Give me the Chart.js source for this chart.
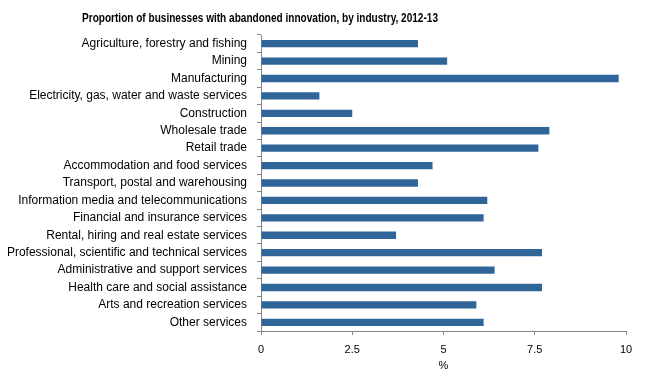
<!DOCTYPE html>
<html>
<head>
<meta charset="utf-8">
<script src="https://cdn.jsdelivr.net/npm/chart.js@4/dist/chart.umd.min.js"></script>
<style>
  html, body { margin: 0; padding: 0; background: #fff; }
  #wrap { width: 670px; height: 373px; position: relative; }
</style>
</head>
<body>
<div id="wrap"><canvas id="chart" width="670" height="373"></canvas></div>
<script>
// ===== Data =====
const industries = [
  "Agriculture, forestry and fishing",
  "Mining",
  "Manufacturing",
  "Electricity, gas, water and waste services",
  "Construction",
  "Wholesale trade",
  "Retail trade",
  "Accommodation and food services",
  "Transport, postal and warehousing",
  "Information media and telecommunications",
  "Financial and insurance services",
  "Rental, hiring and real estate services",
  "Professional, scientific and technical services",
  "Administrative and support services",
  "Health care and social assistance",
  "Arts and recreation services",
  "Other services"
];
const abandonedPct = [4.3, 5.1, 9.8, 1.6, 2.5, 7.9, 7.6, 4.7, 4.3, 6.2, 6.1, 3.7, 7.7, 6.4, 7.7, 5.9, 6.1];
const xTicks = [0, 2.5, 5, 7.5, 10];

const titleText = "Proportion of businesses with abandoned innovation, by industry, 2012-13";
const FONT = "'Liberation Sans', Arial, sans-serif";

// title drawn by hand so it can sit where the original has it
const titlePlugin = {
  id: "titleText",
  afterDraw(chart) {
    const ctx = chart.ctx;
    ctx.save();
    ctx.font = "bold 13px " + FONT;
    ctx.fillStyle = "#000";
    ctx.textAlign = "center";
    ctx.textBaseline = "middle";
    ctx.fillText(titleText, 260, 18, 356);
    ctx.restore();
  }
};

const ctx = document.getElementById("chart").getContext("2d");
new Chart(ctx, {
  type: "bar",
  data: {
    labels: industries,
    datasets: [{
      data: abandonedPct,
      backgroundColor: "#30659a",
      barPercentage: 0.42,
      categoryPercentage: 1
    }]
  },
  options: {
    indexAxis: "y",
    responsive: false,
    animation: false,
    layout: { padding: { top: 35, right: 44, bottom: 0, left: 0 } },
    plugins: {
      legend: { display: false },
      tooltip: { enabled: false }
    },
    scales: {
      x: {
        min: 0,
        max: 10,
        afterBuildTicks(axis) { axis.ticks = xTicks.map(v => ({ value: v })); },
        afterFit(axis) { axis.height = 42; },
        grid: { drawOnChartArea: false, tickLength: 4, color: "#868686" },
        border: { color: "#868686" },
        ticks: { color: "#000", font: { family: FONT, size: 11 }, padding: 8, maxRotation: 0 },
        title: { display: true, text: "%", color: "#000", font: { family: FONT, size: 11 }, padding: { top: 2, bottom: 0 } }
      },
      y: {
        afterFit(axis) { axis.width = 261; },
        grid: { drawOnChartArea: false, tickLength: 4, color: "#868686", offset: true },
        border: { color: "#868686" },
        ticks: { color: "#000", font: { family: FONT, size: 12 }, padding: 10, autoSkip: false }
      }
    }
  },
  plugins: [titlePlugin]
});
</script>
</body>
</html>
